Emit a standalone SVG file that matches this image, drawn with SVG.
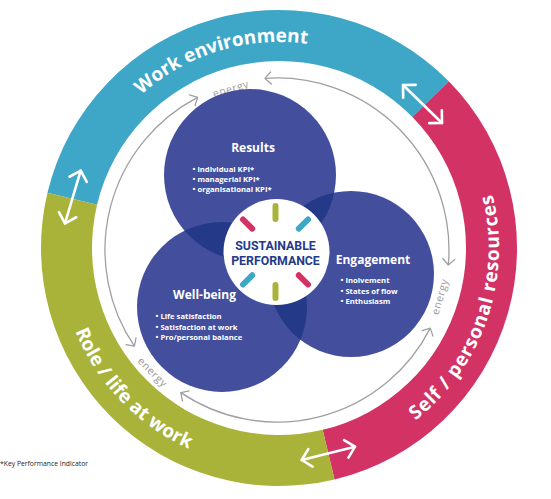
<svg xmlns="http://www.w3.org/2000/svg" width="551" height="499" viewBox="0 0 551 499">
<style>
  .ring-label{font-family:"Open Sans","Liberation Sans",sans-serif;font-weight:700;font-size:19px;fill:#fff}
  .energy{font-family:"Open Sans","Liberation Sans",sans-serif;font-size:10.5px;fill:#9a9a9a;letter-spacing:0.6px;text-anchor:middle}
  .bubble{fill:#434f9d}
  .overlap{fill:#243a89}
  .title{font-family:"Open Sans","Liberation Sans",sans-serif;font-weight:700;font-size:12px;fill:#fff;text-anchor:middle}
  .item{font-family:"Open Sans","Liberation Sans",sans-serif;font-weight:700;font-size:7.7px;fill:#fff}
  .core{font-family:Roboto,"Liberation Sans",sans-serif;font-weight:700;font-size:12.3px;fill:#233a8a;text-anchor:middle}
  .energy-arc{fill:none;stroke:#a0a0a0;stroke-width:1.3;marker-start:url(#ga);marker-end:url(#ga)}
  .swap{fill:none;stroke:#fff;stroke-width:2.6;stroke-linecap:round;marker-start:url(#wa);marker-end:url(#wa)}
  .dash{stroke-width:6;stroke-linecap:round}
  .foot{font-family:"Open Sans","Liberation Sans",sans-serif;font-size:6.8px;fill:#222}
</style>
<defs>
  <marker id="wa" markerUnits="userSpaceOnUse" markerWidth="20" markerHeight="20" refX="0" refY="0" orient="auto-start-reverse" overflow="visible">
    <path d="M-9,-9 L0,0 L-9,9" fill="none" stroke="#fff" stroke-width="2.6" stroke-linecap="round" stroke-linejoin="round"/>
  </marker>
  <marker id="ga" markerUnits="userSpaceOnUse" markerWidth="12" markerHeight="12" refX="0" refY="0" orient="auto-start-reverse" overflow="visible">
    <path d="M-6,-6 L0,0 L-6,6" fill="none" stroke="#a0a0a0" stroke-width="1.3" stroke-linecap="round" stroke-linejoin="round"/>
  </marker>
  <clipPath id="clipR"><circle cx="250" cy="175" r="86"/></clipPath>
  <clipPath id="clipE"><circle cx="351" cy="274" r="83"/></clipPath>
  <path id="pWork" d="M78.3,201.7 A206,206 0 0 1 419.5,97.3"/>
  <path id="pSelf" d="M308.5,466.0 A220,220 0 0 0 434.6,92.4"/>
  <path id="pRole" d="M67.5,187.4 A220,220 0 0 0 332.2,461.5"/>
</defs>

<g id="work-environment">
  <path d="M47.47,192.86 A238,238 0 0 1 448.77,81.19 L412.39,116.93 A187,187 0 0 0 97.09,204.67 Z" fill="#3ea7c7"/>
  <text class="ring-label"><textPath href="#pWork" startOffset="50%" text-anchor="middle">Work environment</textPath></text>
</g>
<g id="self-personal-resources">
  <path d="M448.77,81.19 A238,238 0 0 1 334.55,479.43 L322.65,429.84 A187,187 0 0 0 412.39,116.93 Z" fill="#d23264"/>
  <text class="ring-label" letter-spacing="0.8"><textPath href="#pSelf" startOffset="50%" text-anchor="middle">Self / personal resources</textPath></text>
</g>
<g id="role-life-at-work">
  <path d="M334.55,479.43 A238,238 0 0 1 47.47,192.86 L97.09,204.67 A187,187 0 0 0 322.65,429.84 Z" fill="#a9b33a"/>
  <text class="ring-label"><textPath href="#pRole" startOffset="50%" text-anchor="middle">Role / life at work</textPath></text>
</g>

<g id="connectors">
  <path class="swap" d="M403,85 L442,123"/>
  <path class="swap" d="M80.7,170.7 L65,223.3"/>
  <path class="swap" d="M301.7,460 L355,446.7"/>
  <path class="energy-arc" d="M265,78.4 A172,172 0 0 1 448.3,265"/>
  <path class="energy-arc" d="M430.3,328.1 A172,172 0 0 1 180.8,392.6"/>
  <path class="energy-arc" d="M134.4,346.2 A172,172 0 0 1 197.6,97.4"/>
  <text class="energy" x="231.8" y="92.3" transform="rotate(-16 231.8 92.3)">energy</text>
  <text class="energy" x="443.3" y="297.7" transform="rotate(-74 443.3 297.7)">energy</text>
  <text class="energy" x="150" y="374.8" transform="rotate(45.5 150 374.8)">energy</text>
</g>

<g id="results">
  <circle class="bubble" cx="250" cy="175" r="86"/>
  <text class="title" x="253" y="152">Results</text>
  <text class="item" x="192.5" y="171.7">• individual KPI*</text>
  <text class="item" x="192.5" y="182">• managerial KPI*</text>
  <text class="item" x="192.5" y="192.4">• organisational KPI*</text>
</g>
<g id="engagement">
  <circle class="bubble" cx="351" cy="274" r="83"/>
  <text class="title" x="373" y="264">Engagement</text>
  <text class="item" x="340.5" y="283.3">• Inolvement</text>
  <text class="item" x="340.5" y="293.6">• States of flow</text>
  <text class="item" x="340.5" y="304">• Enthusiasm</text>
</g>
<g id="well-being">
  <circle class="bubble" cx="222" cy="307" r="85"/>
  <text class="title" x="204.5" y="299.3">Well-being</text>
  <text class="item" x="155.5" y="319.2">• Life satisfaction</text>
  <text class="item" x="155.5" y="329.6">• Satisfaction at work</text>
  <text class="item" x="155.5" y="340">• Pro/personal balance</text>
</g>
<g id="overlaps">
  <circle class="overlap" cx="351" cy="274" r="83" clip-path="url(#clipR)"/>
  <circle class="overlap" cx="222" cy="307" r="85" clip-path="url(#clipR)"/>
  <circle class="overlap" cx="222" cy="307" r="85" clip-path="url(#clipE)"/>
</g>

<g id="sustainable-performance">
  <circle cx="276.5" cy="252" r="53" fill="#fff"/>
  <line class="dash" x1="275.5" y1="206" x2="275.5" y2="219" stroke="#a9b33a"/>
  <line class="dash" x1="275.5" y1="285" x2="275.5" y2="298" stroke="#a9b33a"/>
  <line class="dash" x1="243" y1="219.5" x2="252.2" y2="228.7" stroke="#d23264"/>
  <line class="dash" x1="308" y1="284.5" x2="298.8" y2="275.3" stroke="#d23264"/>
  <line class="dash" x1="308" y1="219.5" x2="298.8" y2="228.7" stroke="#3ea7c7"/>
  <line class="dash" x1="243" y1="284.5" x2="252.2" y2="275.3" stroke="#3ea7c7"/>
  <text class="core" x="275.5" y="249.5">SUSTAINABLE</text>
  <text class="core" x="275.5" y="265">PERFORMANCE</text>
</g>

<text class="foot" x="0" y="466">*Key Performance Indicator</text>
</svg>
